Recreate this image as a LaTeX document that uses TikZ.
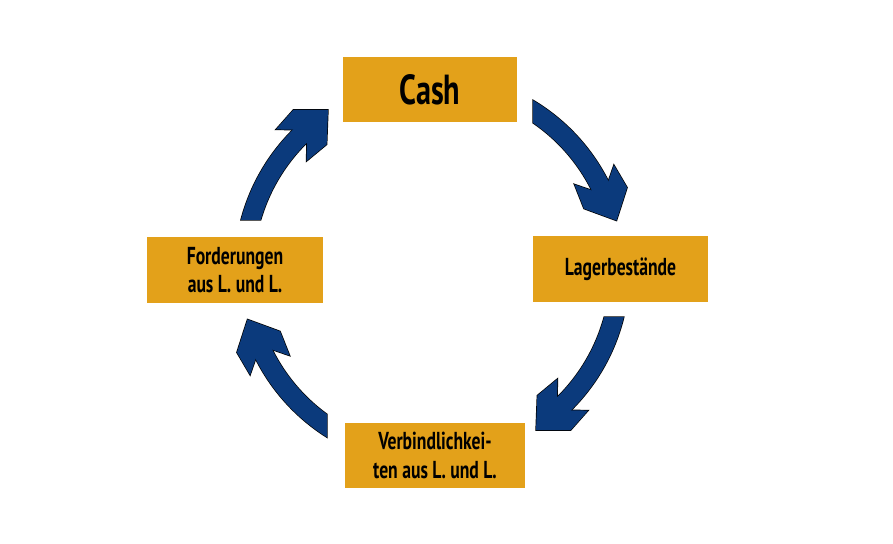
\documentclass[tikz,border=0pt]{standalone}
\usepackage{fontspec}
\setmainfont{PT Sans}[FakeStretch=0.72]
\definecolor{boxgold}{HTML}{E3A11A}
\definecolor{arrowblue}{HTML}{0B3A7C}
\tikzset{
  cyclebox/.style={fill=boxgold, draw=none, minimum width=#1, minimum height=65pt, inner sep=0pt, align=center, font=\bfseries\fontsize{24.5}{28.5}\selectfont, text=black},
  cyclebox/.default=176pt,
}
% #1 outer tail angle, #2 inner tail angle, #3 tip angle, #4 extra options
\newcommand\cyclearrowshape[4]{%
  \path[#4] (#1:197.5pt) arc[start angle=#1, end angle={#3+6}, radius=197.5pt]
    -- ({#3+6}:178.5pt) arc[start angle={#3+6}, end angle=#2, radius=178.5pt] -- cycle;
  \begin{scope}[shift={(#3:191pt)}, rotate={#3-79}]
    \path[#4] (0,0) -- (-25,24) -- (-51,22) -- (-29,0) -- (-51,-22) -- (-25,-24) -- cycle;
  \end{scope}
}
\newcommand\cyclearrow[3]{%
  \cyclearrowshape{#1}{#2}{#3}{draw=black, line width=1.4pt, line join=miter}
  \cyclearrowshape{#1}{#2}{#3}{fill=arrowblue}
}
\begin{document}
\begin{tikzpicture}[x=1pt,y=1pt]
\useasboundingbox (0,0) rectangle (893,543);
\coordinate (c) at (432,273);
\node[cyclebox=174pt, font=\bfseries\fontsize{42}{48}\selectfont] (cash) at (430,453.5) {Cash};
\node[cyclebox=175pt, minimum height=66pt] (lager) at (620.5,274) {Lagerbestände};
\node[cyclebox=180pt] (verb) at (435,87.5) {Verbindlichkei-\\ten aus L. und L.};
\node[cyclebox=176pt, minimum height=66pt] (ford) at (235,273) {Forderungen\\aus L. und L.};
\begin{scope}[shift={(c)}]
  \cyclearrow{59.24}{55.54}{15}
  \cyclearrow{-13.77}{-15.27}{-57}
  \cyclearrow{-122.11}{-126.03}{-165}
  \cyclearrow{165.33}{163.73}{123}
\end{scope}
\end{tikzpicture}
\end{document}
